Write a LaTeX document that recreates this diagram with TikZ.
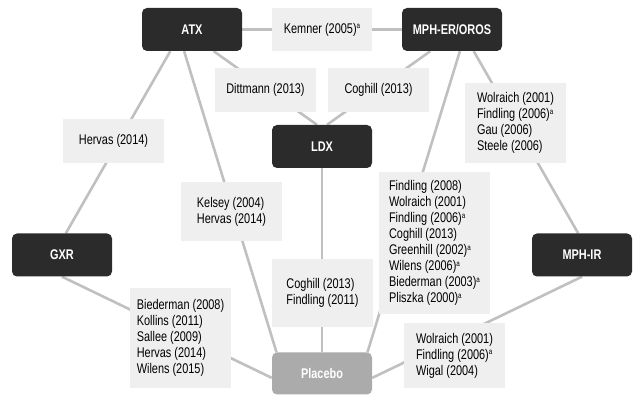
\documentclass[tikz,border=0pt]{standalone}
\usepackage{fontspec}
\setmainfont{Liberation Sans}[FakeStretch=0.78]
\usepackage{xcolor}
\usepackage{tikz}
\usetikzlibrary{backgrounds}
\definecolor{drugdark}{HTML}{2B2B2B}
\definecolor{studybg}{HTML}{EFEFEF}
\definecolor{placebogray}{HTML}{ABABAB}
\definecolor{linegray}{HTML}{C0C0C0}
\tikzstyle{drug} = [rectangle, rounded corners=5pt, minimum width=100pt, minimum height=43pt, text centered, fill=drugdark, text=white, font=\fontsize{14}{16}\selectfont\bfseries]
\tikzstyle{control} = [drug, fill=placebogray, minimum height=42pt]
\tikzstyle{study} = [rectangle, minimum width=101pt, align=left, fill=studybg, font=\fontsize{14}{16}\selectfont]
\tikzstyle{edge} = [line width=2.6pt, draw=linegray]
\newcommand{\noteA}{\raisebox{4.5pt}{\fontsize{8}{8}\selectfont a}}

\begin{document}
\begin{tikzpicture}[x=1pt, y=-1pt]
        \useasboundingbox (0,0) rectangle (633,395);
        \node (atx) [drug] at (192,29.5) {ATX};
        \node (mphero) [drug] at (452,29.5) {MPH-ER/OROS};
        \node (ldx) [drug] at (322,146.5) {LDX};
        \node (gxr) [drug] at (62,255) {GXR};
        \node (mphir) [drug] at (582,255) {MPH-IR};
        \node (plac) [control] at (322,373.5) {Placebo};

        \node (kemner) [study, minimum width=100pt, minimum height=43pt] at (322,29.5) {Kemner (2005)\noteA};
        \node (dittmann) [study, minimum height=44pt] at (265.5,90) {Dittmann (2013)};
        \node (coghill) [study, minimum height=44pt] at (378.5,90) {Coghill (2013)};
        \node (hervas) [study, minimum height=44pt] at (113.5,141) {Hervas (2014)};
        \node (kelsey) [study, minimum height=59pt] at (231.5,211.5) {Kelsey (2004)\\Hervas (2014)};
        \node (coflin) [study, minimum height=68pt] at (322.5,293) {Coghill (2013)\\Findling (2011)};
        \node (wolgau) [study, minimum height=80pt] at (515.5,123) {Wolraich (2001)\\Findling (2006)\noteA\\Gau (2006)\\Steele (2006)};
        \node (findling) [study, minimum width=111pt, minimum height=142pt] at (434.5,243) {Findling (2008)\\Wolraich (2001)\\Findling (2006)\noteA\\Coghill (2013)\\Greenhill (2002)\noteA\\Wilens (2006)\noteA\\Biederman (2003)\noteA\\Pliszka (2000)\noteA};
        \node (biederman) [study, minimum height=100pt] at (180.5,338) {Biederman (2008)\\Kollins (2011)\\Sallee (2009)\\Hervas (2014)\\Wilens (2015)};
        \node (wolwig) [study, minimum height=65pt] at (454.5,355.5) {Wolraich (2001)\\Findling (2006)\noteA\\Wigal (2004)};

        % Comparaciones directas
        \begin{pgfonlayer}{background}
        \draw [edge] (atx) -- (mphero);
        \draw [edge] (atx.-45) -- (ldx.103);
        \draw [edge] (mphero.-135) -- (ldx.77);
        \draw [edge] (atx.-135) -- (gxr.80);
        \draw [edge] (atx.-110) -- (plac.155);
        \draw [edge] (mphero.-45) -- (mphir.100);
        \draw [edge] (mphero.-70) -- (plac.25);
        \draw [edge] (ldx) -- (plac);
        \draw [edge] (gxr.south) -- (plac.185);
        \draw [edge] (mphir.south) -- (plac.-5);
        \end{pgfonlayer}
    \end{tikzpicture}
\end{document}
